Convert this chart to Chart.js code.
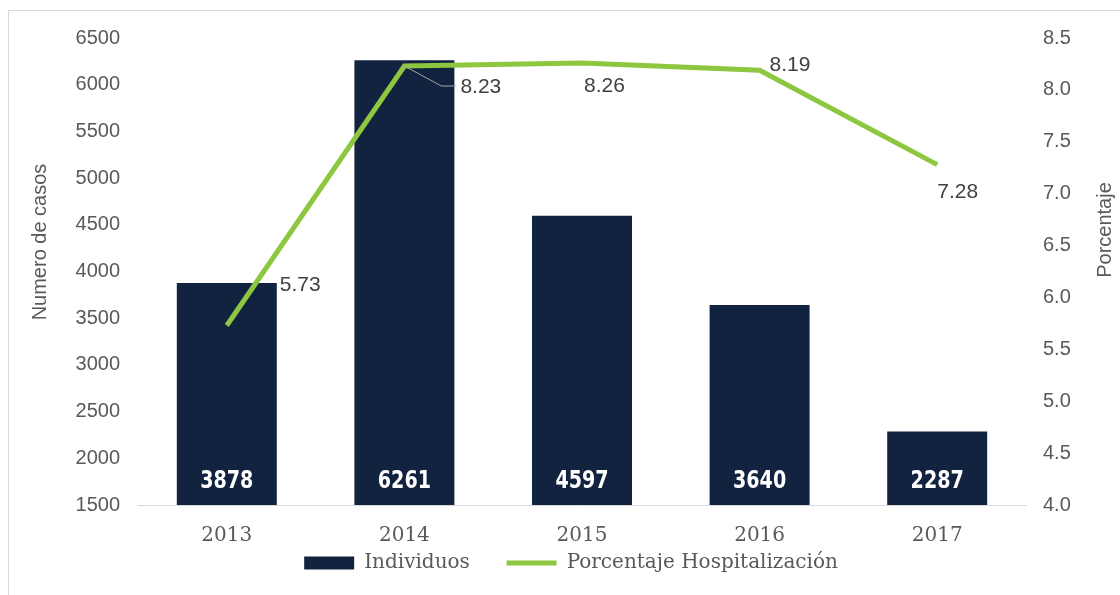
<!DOCTYPE html>
<html>
<head>
<meta charset="utf-8">
<script src="https://cdn.jsdelivr.net/npm/chart.js@4/dist/chart.umd.min.js"></script>
<style>
    html, body { margin: 0; padding: 0; background: #fff; overflow: hidden; }
    #wrap { position: relative; width: 1120px; height: 595px; }
    #frame { position: absolute; left: 8px; top: 10px; width: 1200px; height: 700px; border: 1px solid #d9d9d9; }
    canvas { position: absolute; left: 0; top: 0; }
</style>
</head>
<body>
<div id="wrap">
    <div id="frame"></div>
    <canvas id="chart" width="1120" height="595"></canvas>
</div>
<script>
// Data
const years = ['2013', '2014', '2015', '2016', '2017'];
const individuos = [3878, 6261, 4597, 3640, 2287];
const porcentaje = [5.73, 8.23, 8.26, 8.19, 7.28];

// Label placement for the line values (offsets from the point)
const lineLabelOffsets = [
    { dx: 53, dy: -40 },
    { dx: 56, dy: 21, leader: true },
    { dx: 2, dy: 23 },
    { dx: 10, dy: -5 },
    { dx: 0, dy: 28 }
];

const navy = '#12233f';
const green = '#8dc63f';
const grey = '#595959';

// Labels on bars, labels on the line, axis titles
const labelPlugin = {
    id: 'labels',
    afterDatasetsDraw(chart) {
        const ctx = chart.ctx;
        const area = chart.chartArea;

        // bar values, white, bold, condensed, at bottom of each bar
        const barMeta = chart.getDatasetMeta(0);
        ctx.save();
        ctx.fillStyle = '#ffffff';
        ctx.font = 'bold 25px "Liberation Sans Narrow", "DejaVu Sans Condensed", sans-serif';
        ctx.textAlign = 'center';
        ctx.textBaseline = 'middle';
        barMeta.data.forEach((bar, i) => {
            ctx.save();
            ctx.translate(bar.x, area.bottom - 24);
            ctx.scale(0.85, 1);
            ctx.fillText(String(individuos[i]), 0, 0);
            ctx.restore();
        });
        ctx.restore();

        // line values
        const lineMeta = chart.getDatasetMeta(1);
        ctx.save();
        ctx.font = '21px "Liberation Sans", Arial, sans-serif';
        ctx.fillStyle = '#404040';
        ctx.textAlign = 'left';
        ctx.textBaseline = 'middle';
        lineMeta.data.forEach((pt, i) => {
            const off = lineLabelOffsets[i];
            const tx = pt.x + off.dx;
            const ty = pt.y + off.dy;
            if (off.leader) {
                ctx.beginPath();
                ctx.strokeStyle = '#a6a6a6';
                ctx.lineWidth = 1;
                ctx.moveTo(pt.x, pt.y);
                ctx.lineTo(tx - 19, ty - 1);
                ctx.lineTo(tx - 4, ty - 1);
                ctx.stroke();
            }
            ctx.fillText(porcentaje[i].toFixed(2), tx, ty);
        });
        ctx.restore();

        // axis titles
        ctx.save();
        ctx.font = '20px "Liberation Sans", Arial, sans-serif';
        ctx.fillStyle = grey;
        ctx.textAlign = 'center';
        ctx.textBaseline = 'middle';
        ctx.translate(40, 242);
        ctx.rotate(-Math.PI / 2);
        ctx.fillText('Numero de casos', 0, 0);
        ctx.restore();

        ctx.save();
        ctx.font = '20px "Liberation Sans", Arial, sans-serif';
        ctx.fillStyle = grey;
        ctx.textAlign = 'center';
        ctx.textBaseline = 'middle';
        ctx.translate(1105, 230);
        ctx.rotate(-Math.PI / 2);
        ctx.fillText('Porcentaje', 0, 0);
        ctx.restore();
    }
};

new Chart(document.getElementById('chart'), {
    type: 'bar',
    data: {
        labels: years,
        datasets: [
            {
                type: 'bar',
                label: 'Individuos',
                data: individuos,
                backgroundColor: navy,
                borderWidth: 0,
                yAxisID: 'y',
                order: 1,
                barPercentage: 0.563,
                categoryPercentage: 1,
                pointStyle: 'rect'
            },
            {
                type: 'line',
                label: 'Porcentaje Hospitalización',
                data: porcentaje,
                borderColor: green,
                backgroundColor: green,
                borderWidth: 5,
                pointRadius: 0,
                tension: 0,
                yAxisID: 'y1',
                order: 0,
                pointStyle: 'line'
            }
        ]
    },
    options: {
        responsive: false,
        animation: false,
        layout: {
            padding: { top: 38, left: 22, right: 0, bottom: 12 }
        },
        scales: {
            x: {
                grid: { display: false, drawTicks: false },
                border: { display: true, color: '#d9d9d9', width: 1 },
                ticks: {
                    color: grey,
                    padding: 19,
                    font: { family: '"DejaVu Serif", serif', size: 20 }
                },
                afterFit(scale) { scale.height = 43; }
            },
            y: {
                position: 'left',
                min: 1500,
                max: 6500,
                grid: { display: false, drawTicks: false },
                border: { display: false },
                ticks: {
                    stepSize: 500,
                    color: grey,
                    padding: 18,
                    font: { family: '"Liberation Sans", Arial, sans-serif', size: 20 },
                    callback: function(value) {
                        return String(value);
                    }
                },
                afterFit(scale) { scale.width = 116; }
            },
            y1: {
                position: 'right',
                min: 4.0,
                max: 8.5,
                grid: { display: false, drawTicks: false },
                border: { display: false },
                ticks: {
                    stepSize: 0.5,
                    color: grey,
                    padding: 17,
                    font: { family: '"Liberation Sans", Arial, sans-serif', size: 20 },
                    callback: function(value) {
                        return Number(value).toFixed(1);
                    }
                },
                afterFit(scale) { scale.width = 94; }
            }
        },
        plugins: {
            legend: {
                display: true,
                position: 'bottom',
                labels: {
                    usePointStyle: true,
                    pointStyleWidth: 50,
                    boxHeight: 13,
                    padding: 5,
                    color: grey,
                    font: { family: '"DejaVu Serif", serif', size: 20 },
                    sort: (a, b) => a.datasetIndex - b.datasetIndex,
                    generateLabels: function(chart) {
                        const items = Chart.defaults.plugins.legend.labels.generateLabels(chart);
                        items.forEach(item => {
                            if (item.datasetIndex === 0) item.text = item.text + '     ';
                        });
                        return items;
                    }
                }
            },
            tooltip: { enabled: false }
        }
    },
    plugins: [labelPlugin]
});
</script>
</body>
</html>
